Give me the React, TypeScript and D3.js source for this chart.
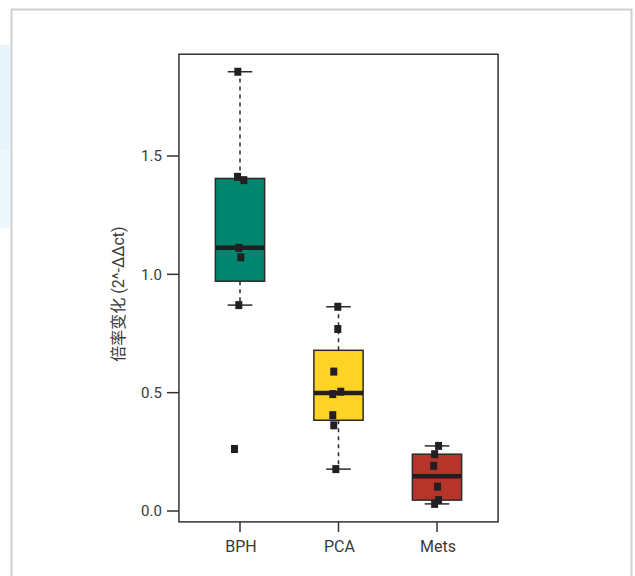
import React from 'react';
import * as d3 from 'd3';

const categories = ['BPH', 'PCA', 'Mets'];
const bphValues = [1.856, 1.412, 1.398, 1.112, 1.072, 0.87, 0.262];
const pcaValues = [0.863, 0.769, 0.589, 0.504, 0.494, 0.405, 0.362, 0.177];
const metsValues = [0.275, 0.24, 0.191, 0.103, 0.046, 0.03];
const bphJitter = [-0.022, -0.025, 0.039, -0.012, 0.008, -0.012, -0.056];
const pcaJitter = [-0.007, -0.007, -0.048, 0.023, -0.058, -0.058, -0.048, -0.027];
const metsJitter = [0.016, -0.024, -0.034, 0.006, 0.016, -0.024];
const fillColors = ['#00866e', '#fdd425', '#b5352a'];
const yTicks = [0, 0.5, 1.0, 1.5];
const yLabel = '倍率变化 (2^-ΔΔct)';

const seriesValues = [bphValues, pcaValues, metsValues];
const seriesJitter = [bphJitter, pcaJitter, metsJitter];

function fivenum(vals: number[]) {
  const x = [...vals].sort((a, b) => a - b);
  const n = x.length;
  const n4 = Math.floor((n + 3) / 2) / 2;
  const d = [1, n4, (n + 1) / 2, n + 1 - n4, n];
  return d.map((di) => 0.5 * (x[Math.floor(di) - 1] + x[Math.ceil(di) - 1]));
}

function boxStats(vals: number[]) {
  const [, q1, med, q3] = fivenum(vals);
  const iqr = q3 - q1;
  const lo = q1 - 1.5 * iqr;
  const hi = q3 + 1.5 * iqr;
  const inside = vals.filter((v) => v >= lo && v <= hi);
  return { q1, med, q3, wlo: d3.min(inside)!, whi: d3.max(inside)! };
}

const FONT = "Roboto, 'Noto Sans CJK SC', sans-serif";

export default function App() {
  const x = d3.scaleLinear().domain([1, 3]).range([240, 437]);
  const y = d3.scaleLinear().domain([0, 1.5]).range([511, 156]);
  const left = x(0.38);
  const right = x(3.62);
  const top = y(1.93);
  const bottom = y(-0.046);
  const halfBox = x(1.25) - x(1);
  const halfCap = halfBox / 2;
  const dark = '#2a2a2a';

  return (
    <svg width={635} height={576} style={{ position: 'absolute', left: 0, top: 0, background: '#fff' }}>
      <rect x={0} y={45} width={10} height={183} fill="#e8f4fb" />
      <rect x={0} y={150} width={10} height={78} fill="#eef7fc" />
      <line x1={11.5} y1={9} x2={11.5} y2={576} stroke="#cfcfcf" strokeWidth={2} />
      <line x1={11} y1={9.5} x2={632} y2={9.5} stroke="#cfcfcf" strokeWidth={2} />
      <line x1={631.5} y1={9} x2={631.5} y2={576} stroke="#cfcfcf" strokeWidth={2} />

      {categories.map((c, i) => {
        const vals = seriesValues[i];
        const s = boxStats(vals);
        const cx = x(i + 1);
        return (
          <g key={c}>
            <line x1={cx} x2={cx} y1={y(s.q3)} y2={y(s.whi)} stroke={dark} strokeWidth={1.5} strokeDasharray="4,4" />
            <line x1={cx} x2={cx} y1={y(s.q1)} y2={y(s.wlo)} stroke={dark} strokeWidth={1.5} strokeDasharray="4,4" />
            <line x1={cx - halfCap} x2={cx + halfCap} y1={y(s.whi)} y2={y(s.whi)} stroke={dark} strokeWidth={1.5} />
            <line x1={cx - halfCap} x2={cx + halfCap} y1={y(s.wlo)} y2={y(s.wlo)} stroke={dark} strokeWidth={1.5} />
            <rect x={cx - halfBox} y={y(s.q3)} width={2 * halfBox} height={y(s.q1) - y(s.q3)} fill={fillColors[i]} stroke={dark} strokeWidth={1.5} />
            <line x1={cx - halfBox} x2={cx + halfBox} y1={y(s.med)} y2={y(s.med)} stroke="#231f20" strokeWidth={4.5} />
            {vals.map((v, j) => (
              <rect key={j} x={x(i + 1 + seriesJitter[i][j]) - 3.5} y={y(v) - 4} width={7} height={8} fill="#231f20" />
            ))}
          </g>
        );
      })}

      <rect x={left} y={top} width={right - left} height={bottom - top} fill="none" stroke="#333" strokeWidth={1.5} />

      {yTicks.map((t) => (
        <g key={t}>
          <line x1={left - 12} x2={left} y1={y(t)} y2={y(t)} stroke="#333" strokeWidth={1.5} />
          <text x={left - 17} y={y(t)} dy="0.36em" textAnchor="end" fontFamily={FONT} fontSize={15} fill="#3a3a3a">
            {d3.format('.1f')(t)}
          </text>
        </g>
      ))}
      {categories.map((c, i) => (
        <g key={c}>
          <line x1={x(i + 1)} x2={x(i + 1)} y1={bottom} y2={bottom + 10} stroke="#333" strokeWidth={1.5} />
          <text x={x(i + 1) + 1} y={bottom + 30} textAnchor="middle" fontFamily={FONT} fontSize={16} fill="#3a3a3a">
            {c}
          </text>
        </g>
      ))}
      <text
        transform={`translate(${124},${294}) rotate(-90)`}
        textAnchor="middle"
        fontFamily={FONT}
        fontSize={16}
        fill="#3a3a3a"
      >
        {yLabel}
      </text>
    </svg>
  );
}
